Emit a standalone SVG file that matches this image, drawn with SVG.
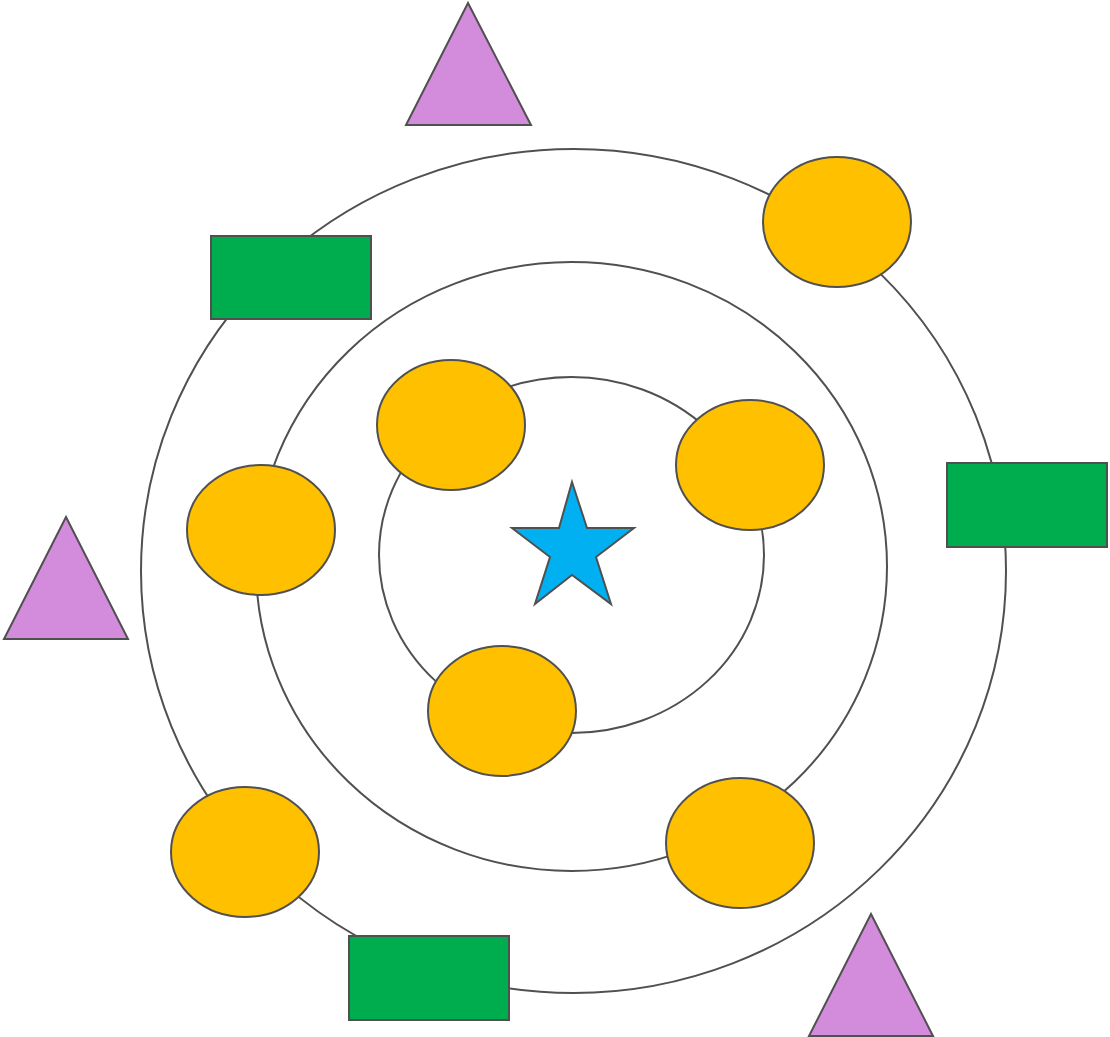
<svg xmlns="http://www.w3.org/2000/svg" width="1110" height="1037" viewBox="0 0 1110 1037">
<style>
.ring{fill:none;stroke:#505050;stroke-width:2}
.y{fill:#FFC000;stroke:#505050;stroke-width:2}
.g{fill:#00AD4E;stroke:#505050;stroke-width:2}
.p{fill:#D38BDB;stroke:#505050;stroke-width:2}
.s{fill:#00B0F0;stroke:#505050;stroke-width:2}
</style>
<rect width="1110" height="1037" fill="#fff"/>
<g id="rings">
<ellipse id="ring-outer" class="ring" cx="573.5" cy="571" rx="432.5" ry="422"/>
<ellipse id="ring-middle" class="ring" cx="571.5" cy="566.5" rx="315.5" ry="304.5"/>
<ellipse id="ring-inner" class="ring" cx="571.5" cy="555" rx="192.5" ry="178"/>
</g>
<g id="star"><polygon class="s" points="572,482 587,528 634,528 596,557 611,604 572,575 535,604 550,557 512,528 559,528"/></g>
<g id="circle1"><ellipse class="y" cx="837" cy="222" rx="74" ry="65"/></g>
<g id="circle2"><ellipse class="y" cx="451" cy="425" rx="74" ry="65"/></g>
<g id="circle3"><ellipse class="y" cx="750" cy="465" rx="74" ry="65"/></g>
<g id="circle4"><ellipse class="y" cx="261" cy="530" rx="74" ry="65"/></g>
<g id="circle5"><ellipse class="y" cx="502" cy="711" rx="74" ry="65"/></g>
<g id="circle6"><ellipse class="y" cx="740" cy="843" rx="74" ry="65"/></g>
<g id="circle7"><ellipse class="y" cx="245" cy="852" rx="74" ry="65"/></g>
<g id="rect1"><rect class="g" x="211" y="236" width="160" height="83"/></g>
<g id="rect2"><rect class="g" x="947" y="463" width="160" height="84"/></g>
<g id="rect3"><rect class="g" x="349" y="936" width="160" height="84"/></g>
<g id="tri1"><polygon class="p" points="468,3 531,125 406,125"/></g>
<g id="tri2"><polygon class="p" points="66,517 128,639 4,639"/></g>
<g id="tri3"><polygon class="p" points="871,914 933,1036 809,1036"/></g>
</svg>
